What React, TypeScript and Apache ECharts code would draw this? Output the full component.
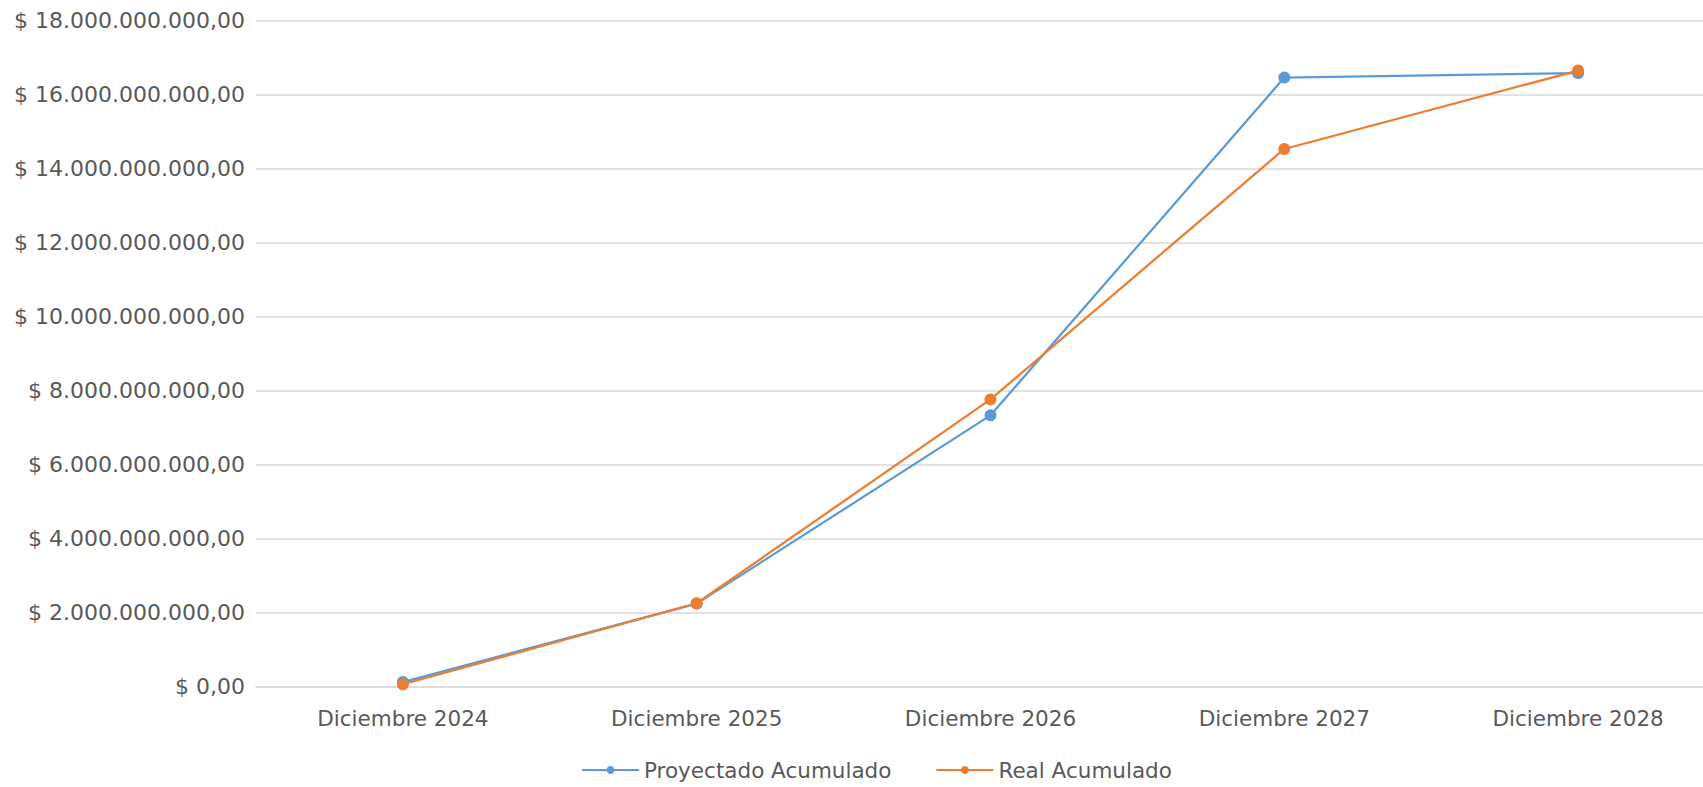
import React, { useEffect, useRef } from "react";
import * as echarts from "echarts";

const categories = ["Diciembre 2024", "Diciembre 2025", "Diciembre 2026", "Diciembre 2027", "Diciembre 2028"];
const proyectado = [120000000, 2240000000, 7330000000, 16460000000, 16580000000];
const real = [60000000, 2250000000, 7760000000, 14530000000, 16650000000];
const seriesNames = ["Proyectado Acumulado", "Real Acumulado"];

function fmt(v: number): string {
  const s = Math.round(v).toString().replace(/\B(?=(\d{3})+(?!\d))/g, ".");
  return "$ " + s + ",00";
}

export default function App() {
  const ref = useRef<HTMLDivElement>(null);
  useEffect(() => {
    document.body.style.margin = "0";
    if (!ref.current) return;
    const chart = echarts.init(ref.current, undefined, { renderer: "svg" });
    const font = "'DejaVu Sans', sans-serif";
    chart.setOption({
      animation: false,
      backgroundColor: "#ffffff",
      grid: { left: 256, right: 0, top: 20.6, bottom: 100.5, containLabel: false },
      legend: {
        data: seriesNames,
        left: 581,
        top: 759,
        padding: 0,
        itemWidth: 57,
        itemHeight: 10,
        itemGap: 44,
        textStyle: { color: "#595959", fontSize: 21.5, lineHeight: 22, fontFamily: font },
      },
      xAxis: {
        type: "category",
        data: categories,
        boundaryGap: true,
        axisLine: { show: true, lineStyle: { color: "#D9D9D9", width: 1.5 } },
        axisTick: { show: false },
        axisLabel: { color: "#595959", fontSize: 21.5, fontFamily: font, margin: 21 },
        splitLine: { show: false },
      },
      yAxis: {
        type: "value",
        min: 0,
        max: 18000000000,
        interval: 2000000000,
        axisLine: { show: false },
        axisTick: { show: false },
        axisLabel: { color: "#595959", fontSize: 22, fontFamily: font, margin: 11, formatter: fmt },
        splitLine: { show: true, lineStyle: { color: "#D9D9D9", width: 1.5 } },
      },
      series: [
        {
          name: seriesNames[0],
          type: "line",
          data: proyectado,
          symbol: "circle",
          symbolSize: 12,
          itemStyle: { color: "#5B9BD5" },
          lineStyle: { color: "#5B9BD5", width: 2.25 },
        },
        {
          name: seriesNames[1],
          type: "line",
          data: real,
          symbol: "circle",
          symbolSize: 12,
          itemStyle: { color: "#ED7D31" },
          lineStyle: { color: "#ED7D31", width: 2.25 },
        },
      ],
    });
    return () => chart.dispose();
  }, []);
  return (
    <div style={{ width: 1703, height: 787, overflow: "hidden", position: "relative" }}>
      <div ref={ref} style={{ width: 1725, height: 787 }} />
    </div>
  );
}
